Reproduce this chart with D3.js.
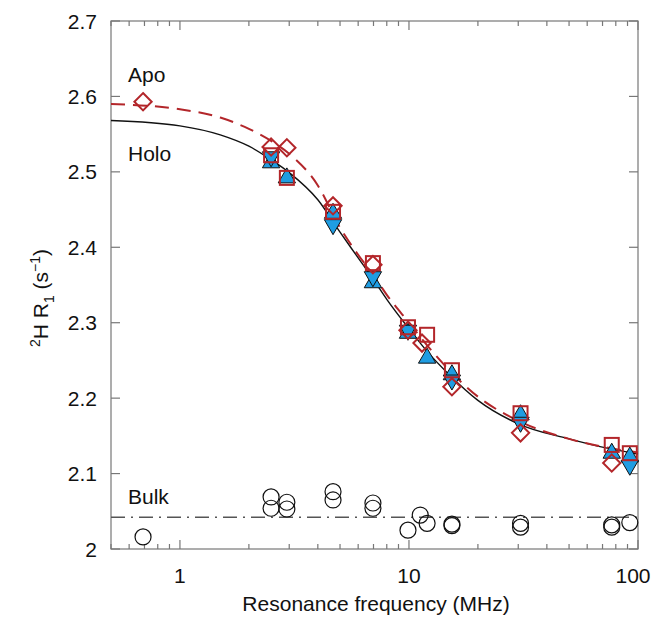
<!DOCTYPE html>
<html lang="en">
<head>
  <meta charset="UTF-8">
  <title>2H R1 dispersion</title>
  <script src="https://d3js.org/d3.v7.min.js"></script>
  <style>
    body { margin: 0; background: #fff; font-family: "Liberation Sans", Arial, sans-serif; }
    text { fill: #111; }
  </style>
</head>
<body>
<svg id="chart" width="652" height="617"></svg>
<script>
// ---- data ----
const tickX = [1, 10, 100];
const tickY = [2, 2.1, 2.2, 2.3, 2.4, 2.5, 2.6, 2.7];

// fitted dispersion curves
const curveFreq = [0.5, 1, 1.5, 2, 2.5, 3, 4, 5, 6, 7, 8, 10, 12, 15, 20, 30, 50, 75, 100];
const holoFit   = [2.568, 2.561, 2.549, 2.534, 2.516, 2.499, 2.463, 2.420, 2.386, 2.357, 2.331, 2.292, 2.262, 2.231, 2.197, 2.166, 2.146, 2.133, 2.126];
const apoFit    = [2.590, 2.583, 2.572, 2.557, 2.541, 2.524, 2.482, 2.426, 2.390, 2.363, 2.337, 2.300, 2.270, 2.237, 2.202, 2.170, 2.146, 2.134, 2.128];

// Apo (red open markers)
const apoDiamondFreq = [0.69, 2.5, 2.93, 4.66, 6.96, 9.9, 11.4, 15.4, 30.7, 76.8];
const apoDiamondR1   = [2.593, 2.533, 2.532, 2.455, 2.377, 2.290, 2.273, 2.215, 2.154, 2.114];
const apoSquareFreq  = [2.5, 2.93, 4.66, 6.96, 9.9, 12.0, 15.4, 30.7, 76.8, 92.1];
const apoSquareR1    = [2.522, 2.492, 2.447, 2.379, 2.294, 2.284, 2.237, 2.180, 2.138, 2.127];

// Holo (blue filled triangles)
const holoUpFreq   = [2.5, 2.93, 4.66, 6.96, 9.9, 12.0, 15.4, 30.7, 76.8, 92.1];
const holoUpR1     = [2.512, 2.492, 2.445, 2.353, 2.286, 2.253, 2.231, 2.178, 2.127, 2.122];
const holoDownFreq = [2.5, 4.66, 6.96, 9.9, 15.4, 30.7, 92.1];
const holoDownR1   = [2.520, 2.430, 2.361, 2.290, 2.224, 2.168, 2.111];

// Bulk water (open circles) and its mean level
const bulkFreq = [0.69, 2.5, 2.5, 2.93, 2.93, 4.66, 4.66, 6.96, 6.96, 9.9, 11.2, 12.0, 15.4, 15.4, 30.7, 30.7, 76.8, 76.8, 92.1];
const bulkR1   = [2.016, 2.069, 2.054, 2.062, 2.053, 2.076, 2.065, 2.061, 2.054, 2.025, 2.045, 2.034, 2.033, 2.031, 2.034, 2.029, 2.032, 2.029, 2.035];
const bulkLevel = 2.042;

// ---- layout ----
const svg = d3.select("#chart");
const mLeft = 111, mRight = 638, mTop = 21, mBottom = 549;
const red = "#b3262a", blue = "#1f9de2", axisGray = "#777";
const fs = 21;

const x = d3.scaleLog().domain([0.5, 100]).range([mLeft, mRight]);
const y = d3.scaleLinear().domain([2, 2.7]).range([mBottom, mTop]);

// frame
svg.append("rect")
  .attr("x", mLeft).attr("y", mTop)
  .attr("width", mRight - mLeft).attr("height", mBottom - mTop)
  .attr("fill", "none").attr("stroke", axisGray).attr("stroke-width", 1.2);

// x ticks (major + minor), inward, on bottom and top
const minorX = [];
[0.1, 1, 10].forEach(d => { for (let k = 2; k <= 9; k++) { const v = d * k; if (v >= 0.5 && v < 100) minorX.push(v); } });
const tickG = svg.append("g").attr("stroke", axisGray).attr("stroke-width", 1.2);
[[tickX, 9], [minorX, 5]].forEach(([vals, len]) => {
  vals.forEach(v => {
    tickG.append("line").attr("x1", x(v)).attr("x2", x(v)).attr("y1", mBottom).attr("y2", mBottom - len);
    tickG.append("line").attr("x1", x(v)).attr("x2", x(v)).attr("y1", mTop).attr("y2", mTop + len);
  });
});
tickY.forEach(v => {
  tickG.append("line").attr("x1", mLeft).attr("x2", mLeft + 9).attr("y1", y(v)).attr("y2", y(v));
  tickG.append("line").attr("x1", mRight).attr("x2", mRight - 9).attr("y1", y(v)).attr("y2", y(v));
});

// tick labels (last one kept inside the page edge)
svg.append("g").selectAll("text").data(tickX).join("text")
  .attr("x", d => Math.min(x(d), 633)).attr("y", 583)
  .attr("text-anchor", "middle").attr("font-size", fs)
  .text(d => d);
svg.append("g").selectAll("text").data(tickY).join("text")
  .attr("x", 97).attr("y", d => y(d) + 7.5)
  .attr("text-anchor", "end").attr("font-size", fs)
  .text(d => d === 2 ? "2" : d.toFixed(1));

// axis titles
svg.append("text")
  .attr("x", 376).attr("y", 611)
  .attr("text-anchor", "middle").attr("font-size", fs)
  .text("Resonance frequency (MHz)");

const yl = svg.append("text")
  .attr("transform", "translate(48,298) rotate(-90)")
  .attr("text-anchor", "middle").attr("font-size", fs);
yl.append("tspan").attr("font-size", 14).attr("dy", -8).text("2");
yl.append("tspan").attr("dy", 8).text("H R");
yl.append("tspan").attr("font-size", 14).attr("dy", 6).text("1");
yl.append("tspan").attr("dy", -6).text(" (s");
yl.append("tspan").attr("font-size", 14).attr("dy", -8).text("\u22121");
yl.append("tspan").attr("dy", 8).text(")");

// bulk level
svg.append("line")
  .attr("x1", mLeft).attr("x2", mRight)
  .attr("y1", y(bulkLevel)).attr("y2", y(bulkLevel))
  .attr("stroke", "#555").attr("stroke-width", 1.4)
  .attr("stroke-dasharray", "14,6,2,6");

// fitted curves
const line = d3.line().curve(d3.curveMonotoneX);
svg.append("path")
  .attr("d", line(curveFreq.map((f, i) => [x(f), y(holoFit[i])])))
  .attr("fill", "none").attr("stroke", "#111").attr("stroke-width", 1.4);
svg.append("path")
  .attr("d", line(curveFreq.map((f, i) => [x(f), y(apoFit[i])])))
  .attr("fill", "none").attr("stroke", red).attr("stroke-width", 2)
  .attr("stroke-dasharray", "14,8");

// bulk circles
svg.append("g").selectAll("circle").data(bulkFreq).join("circle")
  .attr("cx", d => x(d)).attr("cy", (d, i) => y(bulkR1[i])).attr("r", 8)
  .attr("fill", "none").attr("stroke", "#111").attr("stroke-width", 1.2);

// holo triangles
const tri = d3.symbol().type(d3.symbolTriangle).size(130);
svg.append("g").selectAll("path").data(holoUpFreq).join("path")
  .attr("d", tri)
  .attr("transform", (d, i) => `translate(${x(d)},${y(holoUpR1[i])})`)
  .attr("fill", blue).attr("stroke", "#111").attr("stroke-width", 1);
svg.append("g").selectAll("path").data(holoDownFreq).join("path")
  .attr("d", tri)
  .attr("transform", (d, i) => `translate(${x(d)},${y(holoDownR1[i])}) rotate(180)`)
  .attr("fill", blue).attr("stroke", "#111").attr("stroke-width", 1);

// apo squares and diamonds
svg.append("g").selectAll("rect").data(apoSquareFreq).join("rect")
  .attr("x", d => x(d) - 7).attr("y", (d, i) => y(apoSquareR1[i]) - 7)
  .attr("width", 14).attr("height", 14)
  .attr("fill", "none").attr("stroke", red).attr("stroke-width", 2);
const diamond = d3.symbol().type(d3.symbolDiamond2).size(190);
svg.append("g").selectAll("path").data(apoDiamondFreq).join("path")
  .attr("d", diamond)
  .attr("transform", (d, i) => `translate(${x(d)},${y(apoDiamondR1[i])})`)
  .attr("fill", "none").attr("stroke", red).attr("stroke-width", 2);

// labels
[["Apo", 82], ["Holo", 161], ["Bulk", 504]].forEach(([t, yy]) => {
  svg.append("text").attr("x", 128).attr("y", yy).attr("font-size", fs).text(t);
});
</script>
</body>
</html>
